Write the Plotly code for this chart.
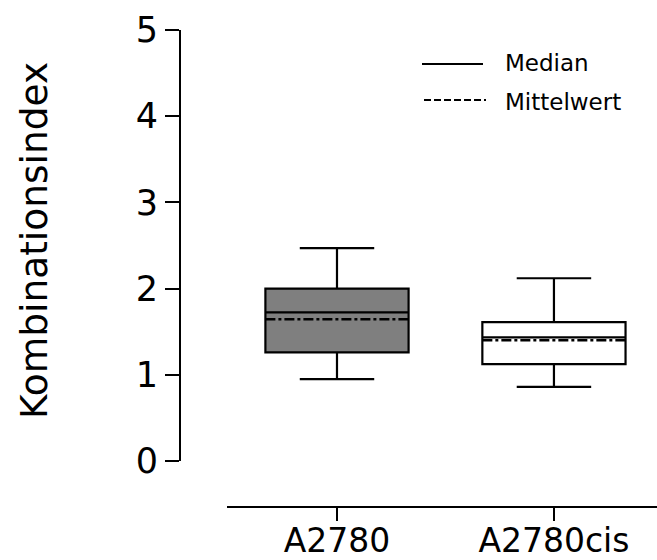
import plotly.graph_objects as go

# ---- data ----
categories = ["A2780", "A2780cis"]
q1 = [1.26, 1.125]
median = [1.725, 1.435]
q3 = [2.0, 1.61]
lower_whisker = [0.95, 0.86]
upper_whisker = [2.47, 2.12]
mean = [1.645, 1.40]
fill_colors = ["#7f7f7f", "#ffffff"]
y_ticks = [0, 1, 2, 3, 4, 5]

W, H = 657, 560
ML, MR, MT, MB = 180, 0, 30, 53
PW = W - ML - MR
PH = H - MT - MB


def px_x(p):
    return (p - ML) / PW


def px_y(p):
    return (H - MB - p) / PH


box_w = 0.66
fig = go.Figure()
for i, cat in enumerate(categories):
    fig.add_trace(go.Box(
        x=[i], q1=[q1[i]], median=[median[i]], q3=[q3[i]],
        lowerfence=[lower_whisker[i]], upperfence=[upper_whisker[i]],
        width=box_w, whiskerwidth=0.52,
        fillcolor=fill_colors[i],
        line=dict(color="black", width=2.2),
        boxpoints=False, showlegend=False, hoverinfo="skip", name=cat,
    ))
    fig.add_trace(go.Scatter(
        x=[i - box_w / 2, i + box_w / 2], y=[mean[i], mean[i]],
        mode="lines", line=dict(color="black", width=2.5, dash="10px,3px,3px,3px"),
        showlegend=False, hoverinfo="skip",
    ))

font_family = "DejaVu Sans"
fig.update_layout(
    width=W, height=H,
    margin=dict(l=ML, r=MR, t=MT, b=MB, autoexpand=False),
    paper_bgcolor="white", plot_bgcolor="white",
    boxmode="overlay",
    font=dict(family=font_family, color="black"),
    xaxis=dict(
        domain=[px_x(227), 1], anchor="free", position=0,
        range=[-0.507, 1.475], automargin=False,
        tickmode="array", tickvals=list(range(len(categories))), ticktext=categories,
        showline=True, linecolor="black", linewidth=2,
        ticks="outside", ticklen=13, tickwidth=2, tickcolor="black",
        ticklabelstandoff=-9,
        showgrid=False, zeroline=False,
        tickfont=dict(size=33, family=font_family, color="black"),
    ),
    yaxis=dict(
        domain=[px_y(461), 1], anchor="free", position=0,
        range=[0, 5], tickvals=y_ticks, automargin=False,
        showline=True, linecolor="black", linewidth=2,
        ticks="outside", ticklen=14, tickwidth=2, tickcolor="black",
        showgrid=False, zeroline=False,
        tickfont=dict(size=35, family=font_family, color="black"),
    ),
    shapes=[
        dict(type="line", xref="paper", yref="paper",
             x0=px_x(422), x1=px_x(483), y0=px_y(64), y1=px_y(64),
             line=dict(color="black", width=2)),
        dict(type="line", xref="paper", yref="paper",
             x0=px_x(424), x1=px_x(486), y0=px_y(100), y1=px_y(100),
             line=dict(color="black", width=2, dash="7px,3px")),
    ],
    annotations=[
        dict(text="Kombinationsindex", xref="paper", yref="paper",
             x=px_x(34), y=px_y(241), xanchor="center", yanchor="middle",
             textangle=-90, showarrow=False,
             font=dict(size=37.5, family=font_family, color="black")),
        dict(text="Median", xref="paper", yref="paper",
             x=px_x(503), y=px_y(63), xanchor="left", yanchor="middle",
             showarrow=False, font=dict(size=23, family=font_family, color="black")),
        dict(text="Mittelwert", xref="paper", yref="paper",
             x=px_x(503), y=px_y(102), xanchor="left", yanchor="middle",
             showarrow=False, font=dict(size=23, family=font_family, color="black")),
    ],
)

fig.write_html("out.html", config={"displayModeBar": False},
               post_script="document.body.style.margin='0px';")
